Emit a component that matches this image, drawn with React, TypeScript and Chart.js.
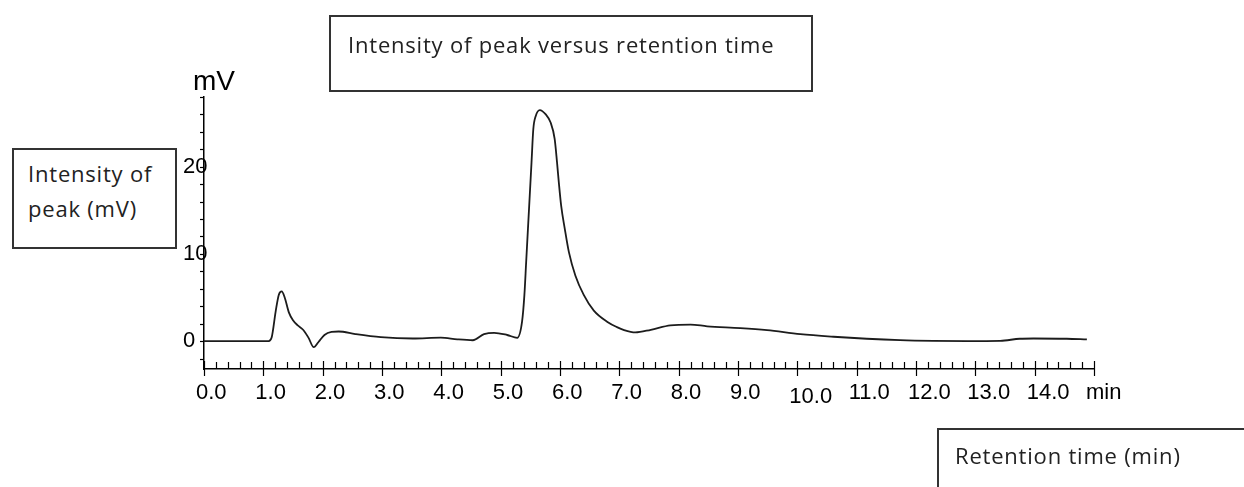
import React, { useEffect, useRef } from "react";
import { Chart, registerables } from "chart.js";

Chart.register(...registerables);

// ---- data ----
const retentionTimes = [
  0, 0.5, 1.0, 1.09, 1.14, 1.21, 1.26, 1.31, 1.36, 1.43, 1.5, 1.58, 1.67, 1.76, 1.85, 1.93, 2.03, 2.15, 2.27,
  2.55, 2.98, 3.52, 3.99, 4.27, 4.53, 4.72, 4.89, 5.11, 5.28, 5.36, 5.4, 5.43, 5.46, 5.49, 5.52, 5.55, 5.59,
  5.66, 5.76, 5.84, 5.91, 5.95, 5.98, 6.02, 6.08, 6.15, 6.26, 6.4, 6.57, 6.8, 6.96, 7.08, 7.27, 7.53, 7.86,
  8.2, 8.48, 9.04, 9.49, 10.05, 10.61, 11.17, 11.73, 12.29, 12.86, 13.42, 13.75, 13.98, 14.54, 14.88,
];
const intensities = [
  0, 0, 0, 0, 0.4, 3.5, 5.3, 5.7, 5.0, 3.3, 2.4, 1.8, 1.3, 0.4, -0.7, -0.1, 0.7, 1.05, 1.1,
  0.8, 0.45, 0.3, 0.4, 0.2, 0.1, 0.8, 0.95, 0.7, 0.38, 2.2, 5.3, 9.1, 12.9, 16.7, 20.5, 24.3, 25.8,
  26.5, 26.0, 25.1, 23.2, 20.5, 18.2, 15.5, 12.9, 10.2, 7.5, 5.3, 3.5, 2.2, 1.6, 1.26, 0.99, 1.3, 1.8,
  1.9, 1.7, 1.5, 1.26, 0.8, 0.5, 0.27, 0.11, 0.03, 0, 0.03, 0.27, 0.3, 0.27, 0.2,
];

const xTickValues = [0, 1, 2, 3, 4, 5, 6, 7, 8, 9, 10, 11, 12, 13, 14, 15];
const xTickLabels = ["0.0", "1.0", "2.0", "3.0", "4.0", "5.0", "6.0", "7.0", "8.0", "9.0", "10.0", "11.0", "12.0", "13.0", "14.0", "min"];
const xLoweredLabels = [10];
const yTickValues = [0, 10, 20];
const yTickLabels = ["0", "10", "20"];
const xRange = [0, 15];
const yRange = [-3.2, 28];
const xMinorStep = 0.2;
const yMinorStep = 2;

const yUnitText = "mV";
const titleText = "Intensity of peak versus retention time";
const yBoxLines = ["Intensity of", "peak (mV)"];
const xBoxText = "Retention time (min)";

const AXIS_FONT = '"Liberation Sans", Arial, sans-serif';
const BOX_FONT = '"Open Sans", "Noto Sans", sans-serif';

const axisDecor = {
  id: "axisDecor",
  afterDraw(chart: any) {
    const ctx = chart.ctx;
    const xs = chart.scales.x;
    const ys = chart.scales.y;
    const area = chart.chartArea;
    ctx.save();
    ctx.strokeStyle = "#000";
    ctx.lineWidth = 1.2;
    // x ticks (inward minor, crossing major)
    const nx = Math.round((xRange[1] - xRange[0]) / xMinorStep);
    for (let i = 0; i <= nx; i++) {
      const v = xRange[0] + i * xMinorStep;
      const px = Math.round(xs.getPixelForValue(v)) + 0.5;
      const major = Math.abs(v - Math.round(v)) < 1e-6;
      ctx.beginPath();
      ctx.moveTo(px, area.bottom - (major ? 8 : 7));
      ctx.lineTo(px, area.bottom + (major ? 7 : 0));
      ctx.stroke();
    }
    // y ticks (outward)
    for (let v = Math.ceil(yRange[0] / yMinorStep) * yMinorStep; v <= yRange[1] + 1e-9; v += yMinorStep) {
      const py = Math.round(ys.getPixelForValue(v)) + 0.5;
      ctx.beginPath();
      ctx.moveTo(area.left - 4, py);
      ctx.lineTo(area.left, py);
      ctx.stroke();
    }
    // unit label
    ctx.fillStyle = "#000";
    ctx.font = `28px ${AXIS_FONT}`;
    ctx.textAlign = "left";
    ctx.textBaseline = "alphabetic";
    ctx.fillText(yUnitText, area.left - 11, area.top - 7);
    ctx.restore();
  },
};

export default function App() {
  const canvasRef = useRef<HTMLCanvasElement>(null);

  useEffect(() => {
    if (!canvasRef.current) return;
    const chart = new Chart(canvasRef.current, {
      type: "line",
      data: {
        datasets: [
          {
            data: retentionTimes.map((t, i) => ({ x: t, y: intensities[i] })),
            borderColor: "#1c1c1c",
            borderWidth: 1.8,
            pointRadius: 0,
            fill: false,
            cubicInterpolationMode: "monotone",
          },
        ],
      },
      options: {
        responsive: false,
        animation: false,
        layout: { padding: { left: 0, top: 97, right: 150, bottom: 78 } },
        plugins: { legend: { display: false }, tooltip: { enabled: false }, title: { display: false } },
        scales: {
          x: {
            type: "linear",
            min: xRange[0],
            max: xRange[1],
            afterBuildTicks: (s: any) => {
              s.ticks = xTickValues.map((v) => ({ value: v }));
            },
            afterFit: (s: any) => {
              s.height = 40;
            },
            grid: { display: false, drawTicks: false },
            border: { display: true, color: "#000", width: 1.5 },
            ticks: {
              autoSkip: false,
              maxRotation: 0,
              minRotation: 0,
              align: "start",
              labelOffset: -8,
              padding: 11,
              color: "#000",
              callback: (value: any) => {
                const i = xTickValues.indexOf(Number(value));
                return i >= 0 ? xTickLabels[i] : "";
              },
              font: (ctx: any) => ({
                family: AXIS_FONT,
                size: 22,
                lineHeight: ctx.tick && xLoweredLabels.includes(ctx.tick.value) ? 1.5 : 1.2,
              }),
            },
          },
          y: {
            type: "linear",
            min: yRange[0],
            max: yRange[1],
            afterBuildTicks: (s: any) => {
              s.ticks = yTickValues.map((v) => ({ value: v }));
            },
            afterFit: (s: any) => {
              s.width = 204;
            },
            grid: { display: false, drawTicks: false },
            border: { display: true, color: "#000", width: 1.5 },
            ticks: {
              mirror: true,
              padding: -21,
              color: "#000",
              font: { family: AXIS_FONT, size: 22 },
              callback: (value: any) => {
                const i = yTickValues.indexOf(Number(value));
                return i >= 0 ? yTickLabels[i] : "";
              },
            },
          },
        },
      },
      plugins: [axisDecor],
    } as any);
    return () => chart.destroy();
  }, []);

  const boxStyle: React.CSSProperties = {
    position: "absolute",
    boxSizing: "border-box",
    border: "2px solid #333",
    background: "transparent",
  };
  const textStyle: React.CSSProperties = {
    position: "absolute",
    fontFamily: BOX_FONT,
    fontSize: 22,
    letterSpacing: "0.8px",
    color: "#222",
    whiteSpace: "nowrap",
  };

  return (
    <div
      style={{
        position: "fixed",
        left: 0,
        top: 0,
        width: 1244,
        height: 487,
        overflow: "hidden",
        background: "#fff",
      }}
    >
      <canvas ref={canvasRef} width={1244} height={487} style={{ display: "block", position: "absolute", left: 0, top: 0 }} />
      <div style={{ ...boxStyle, left: 329, top: 15, width: 484, height: 77 }} />
      <div style={{ ...textStyle, left: 348, top: 29.5, lineHeight: "28px" }}>{titleText}</div>
      <div style={{ ...boxStyle, left: 12, top: 148, width: 165, height: 101, background: "#fff" }} />
      <div style={{ ...textStyle, left: 28, top: 156, lineHeight: "35px" }}>
        {yBoxLines.map((l, i) => (
          <div key={i}>{l}</div>
        ))}
      </div>
      <div style={{ ...boxStyle, left: 937, top: 428, width: 330, height: 80 }} />
      <div style={{ ...textStyle, left: 955, top: 440.5, lineHeight: "28px" }}>{xBoxText}</div>
    </div>
  );
}
